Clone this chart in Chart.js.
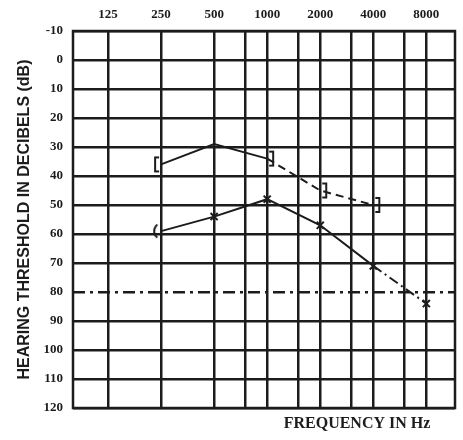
<!DOCTYPE html>
<html>
<head>
<meta charset="utf-8">
<script src="https://cdn.jsdelivr.net/npm/chart.js@4.4.1/dist/chart.umd.min.js"></script>
<style>
  html, body { margin: 0; padding: 0; background: #fff; }
  #wrap { width: 463px; height: 440px; }
</style>
</head>
<body>
<div id="wrap"><canvas id="audiogram"></canvas></div>
<script>
// grid lines (Hz) and the labelled octaves
const freqTicks = [125, 250, 500, 750, 1000, 1500, 2000, 3000, 4000, 6000, 8000];
const freqLabels = ['125', '250', '500', '1000', '2000', '4000', '8000'];
const dbTicks = [-10, 0, 10, 20, 30, 40, 50, 60, 70, 80, 90, 100, 110, 120];

// upper trace (bracket marks)
const upperFreqs = [250, 500, 1000, 2000, 4000];
const upperDb = [36, 29, 34, 45, 50];
const upperMarks = ['[', '', ']', ']', ']'];

// lower trace (x marks)
const lowerFreqs = [250, 500, 1000, 2000, 4000, 8000];
const lowerDb = [59, 54, 48, 57, 71, 84];
const lowerMarks = ['(', 'x', 'x', 'x', 'x', 'x'];

const yTitle = 'HEARING THRESHOLD IN DECIBELS (dB)';
const xTitle = 'FREQUENCY IN Hz';

const ink = '#1c1c1c';
const oct = f => Math.log2(f / 125);
const xMin = -0.66, xMax = 6.54;

function markCanvas(kind) {
  const c = document.createElement('canvas');
  c.width = 18; c.height = 20;
  const g = c.getContext('2d');
  g.strokeStyle = ink;
  g.lineWidth = 2;
  g.beginPath();
  if (kind === '[') {
    g.moveTo(7, 3); g.lineTo(3, 3); g.lineTo(3, 17); g.lineTo(7, 17);
  } else if (kind === ']') {
    g.moveTo(11, 3); g.lineTo(15, 3); g.lineTo(15, 17); g.lineTo(11, 17);
  } else if (kind === '(') {
    g.arc(10, 10, 8, Math.PI * 0.7, Math.PI * 1.3);
  }
  g.stroke();
  return c;
}

function styleFor(m) {
  if (m === 'x') return 'crossRot';
  if (m === '') return 'circle';
  return markCanvas(m);
}

// outer frame + bottom-right axis caption
const frame = {
  id: 'frame',
  beforeDatasetsDraw(chart) {
    const { ctx, chartArea: a } = chart;
    ctx.save();
    ctx.strokeStyle = ink;
    ctx.lineWidth = 2.5;
    ctx.strokeRect(a.left, a.top, a.right - a.left, a.bottom - a.top);
    ctx.restore();
  },
  afterDraw(chart) {
    const ctx = chart.ctx;
    const xs = chart.scales.x;
    ctx.save();
    ctx.font = 'bold 16px "Liberation Serif"';
    ctx.fillStyle = ink;
    ctx.textAlign = 'right';
    ctx.textBaseline = 'middle';
    ctx.fillText(xTitle, xs.getPixelForValue(oct(8000)) + 4, chart.chartArea.bottom + 16);
    ctx.restore();
  }
};

const ctx = document.getElementById('audiogram').getContext('2d');
new Chart(ctx, {
  type: 'line',
  data: {
    datasets: [
      {
        data: upperFreqs.map((f, i) => ({ x: oct(f), y: upperDb[i] })),
        borderColor: ink,
        borderWidth: 2,
        pointStyle: upperMarks.map(styleFor),
        pointRadius: upperMarks.map(m => (m ? 6 : 0)),
        pointBorderColor: ink,
        pointBorderWidth: 2,
        segment: {
          borderDash: c => (c.p0DataIndex >= 2 ? [8, 5] : [])
        }
      },
      {
        data: lowerFreqs.map((f, i) => ({ x: oct(f), y: lowerDb[i] })),
        borderColor: ink,
        borderWidth: 2,
        pointStyle: lowerMarks.map(styleFor),
        pointRadius: 5,
        pointBorderColor: ink,
        pointBorderWidth: 2,
        segment: {
          borderDash: c => (c.p0DataIndex >= 4 ? [10, 4, 2, 4] : [])
        }
      }
    ]
  },
  options: {
    responsive: true,
    maintainAspectRatio: false,
    animation: false,
    layout: { padding: { top: 0, right: 8, bottom: 32, left: 0 } },
    plugins: { legend: { display: false }, tooltip: { enabled: false } },
    scales: {
      x: {
        type: 'linear',
        position: 'top',
        min: xMin,
        max: xMax,
        afterBuildTicks: s => {
          s.ticks = freqTicks.map(oct).map(v => ({ value: v }));
        },
        afterFit: s => { s.height = 31; },
        ticks: {
          autoSkip: false,
          maxRotation: 0,
          padding: 9,
          color: ink,
          font: { family: '"Liberation Serif"', size: 13, weight: 'bold' },
          callback: v => {
            const f = String(Math.round(125 * Math.pow(2, v)));
            return freqLabels.includes(f) ? f : '';
          }
        },
        grid: { color: ink, lineWidth: 2.5, drawTicks: false },
        border: { display: false }
      },
      y: {
        reverse: true,
        min: dbTicks[0],
        max: dbTicks[dbTicks.length - 1],
        afterBuildTicks: s => { s.ticks = dbTicks.map(v => ({ value: v })); },
        afterFit: s => { s.width = 73; },
        ticks: {
          padding: 10,
          color: ink,
          font: { family: '"Liberation Serif"', size: 13, weight: 'bold' }
        },
        grid: { color: ink, lineWidth: 2.5, drawTicks: false },
        border: {
          display: false,
          dash: c => (c.tick && c.tick.value === 80 ? [12, 5, 3, 5] : [])
        },
        title: {
          display: true,
          text: yTitle,
          color: ink,
          font: { family: '"Liberation Sans"', size: 16, weight: 'bold' },
          padding: { top: 15, bottom: 0 }
        }
      }
    }
  },
  plugins: [frame]
});
</script>
</body>
</html>
